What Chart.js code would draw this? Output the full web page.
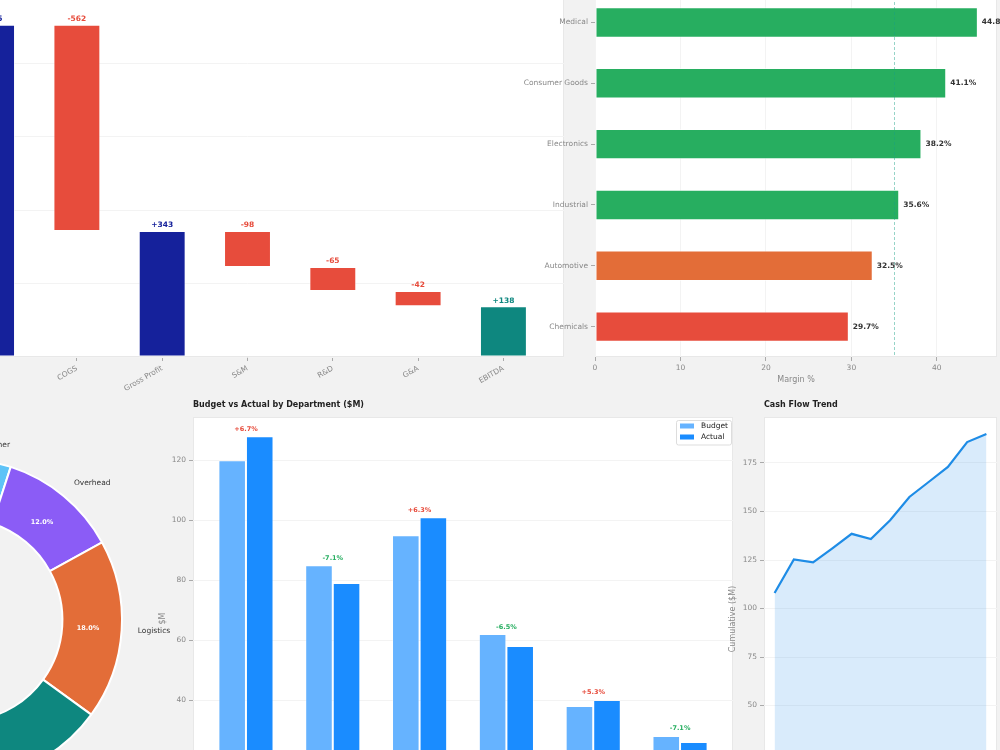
<!DOCTYPE html>
<html>
<head>
<meta charset="utf-8">
<script src="https://cdn.jsdelivr.net/npm/chart.js@4.4.1/dist/chart.umd.min.js"></script>
<style>
  html, body { margin: 0; padding: 0; width: 1000px; height: 750px; overflow: hidden; background: #f2f2f2; position: relative; }
  canvas { position: absolute; }
</style>
</head>
<body>
<canvas id="waterfall"></canvas>
<canvas id="margins"></canvas>
<canvas id="mix"></canvas>
<canvas id="budget"></canvas>
<canvas id="cashflow"></canvas>
<script>
// P&L bridge ($M)
const plSteps = ['Revenue', 'COGS', 'Gross Profit', 'S&M', 'R&D', 'G&A', 'EBITDA'];
const plValues = [905, -562, 343, -98, -65, -42, 138];
const plIsTotal = [true, false, true, false, false, false, true];

// margin by segment (%)
const segments = ['Medical', 'Consumer Goods', 'Electronics', 'Industrial', 'Automotive', 'Chemicals'];
const segMargin = [44.8, 41.1, 38.2, 35.6, 32.5, 29.7];
const marginTarget = 35;

// cost mix (%), clockwise from 12 o'clock
const costNames = ['Other', 'Overhead', 'Logistics', 'Manufacturing', 'Personnel', 'Technology'];
const costShare = [5, 12, 18, 25, 28, 12];

// budget vs actual ($M)
const depts = ['Engineering', 'Sales', 'Operations', 'Marketing', 'HR', 'Finance'];
const budget = [120, 85, 95, 62, 38, 28];
const actual = [128, 79, 101, 58, 40, 26];

// cumulative cash ($M)
const months = ['Jan', 'Feb', 'Mar', 'Apr', 'May', 'Jun', 'Jul', 'Aug', 'Sep', 'Oct', 'Nov', 'Dec'];
const cashCum = [108, 125.3, 123.8, 131, 138.5, 135.8, 145.5, 157.5, 165.2, 173, 185.8, 189.9];

const NAVY = '#15219b', RED = '#e74c3c', TEAL = '#0e877f', GREEN = '#27ae60', ORANGE = '#e36d38';
const PURPLE = '#8b5cf6', SKY = '#5ec3f7', LIGHTBLUE = '#66b3ff', BLUE = '#1a8cff', LINE = '#1e8ce6';
const FONT = "'DejaVu Sans', sans-serif";

Chart.defaults.font.family = FONT;
Chart.defaults.animation = false;
Chart.defaults.responsive = false;
Chart.defaults.plugins.legend.display = false;
Chart.defaults.plugins.tooltip.enabled = false;
Chart.defaults.color = '#888';

// size the canvas so the plot area lands where it should on the page
function placeCanvas(id, plot, m) {
  const c = document.getElementById(id);
  c.width = Math.round(plot.r - plot.l + m.l + m.r);
  c.height = Math.round(plot.b - plot.t + m.t + m.b);
  c.style.left = Math.round(plot.l - m.l) + 'px';
  c.style.top = Math.round(plot.t - m.t) + 'px';
  return c;
}
function fixAxis(size) {
  return function (axis) {
    if (axis.isHorizontal()) axis.height = size; else axis.width = size;
    axis.paddingLeft = axis.paddingRight = axis.paddingTop = axis.paddingBottom = 0;
  };
}
function indexTicks(n) {
  return function (axis) { axis.ticks = Array.from({length: n}, (_, i) => ({value: i})); };
}
function stepTicks(step) {
  return function (axis) { axis.ticks = axis.ticks.filter(t => t.value >= 0 && Math.abs(t.value % step) < 1e-9); };
}

const tickStyle = {color: '#888', font: {size: 7.5}, padding: 3};
const noGrid = {drawOnChartArea: false, offset: false, tickLength: 4, tickColor: '#aaa'};
const faintGrid = {color: '#f3f3f3', offset: false, tickLength: 4, tickColor: '#aaa'};

const panelBg = {
  id: 'panelBg',
  beforeDraw(chart) {
    const {ctx, chartArea: a} = chart;
    ctx.save();
    ctx.fillStyle = '#ffffff';
    ctx.fillRect(a.left, a.top, a.right - a.left, a.bottom - a.top);
    ctx.strokeStyle = '#e8e8e8';
    ctx.lineWidth = 1;
    ctx.strokeRect(a.left + 0.5, a.top + 0.5, a.right - a.left - 1, a.bottom - a.top - 1);
    ctx.restore();
  }
};

const panelTitle = {
  id: 'panelTitle',
  afterDraw(chart, args, opts) {
    if (!opts.text) return;
    const {ctx, chartArea: a} = chart;
    ctx.save();
    ctx.font = 'bold 8px ' + FONT;
    ctx.fillStyle = '#222';
    ctx.textAlign = 'left';
    ctx.textBaseline = 'middle';
    ctx.fillText(opts.text, a.left, a.top - 12.5);
    ctx.restore();
  }
};

// ---------- waterfall ----------
let running = 0;
const plBars = plValues.map((v, i) => {
  if (plIsTotal[i]) { running = v; return {x: i, y: [0, v]}; }
  const from = running;
  running += v;
  return {x: i, y: [running, from]};
});
const stepColor = i => i === plSteps.length - 1 ? TEAL : (plIsTotal[i] ? NAVY : RED);

const waterfallLabels = {
  id: 'waterfallLabels',
  afterDatasetsDraw(chart) {
    const {ctx} = chart;
    ctx.save();
    ctx.font = 'bold 7.5px ' + FONT;
    ctx.textAlign = 'center';
    ctx.textBaseline = 'bottom';
    chart.getDatasetMeta(0).data.forEach((bar, i) => {
      const v = plValues[i];
      ctx.fillStyle = stepColor(i);
      ctx.fillText((v > 0 ? '+' : '') + v, bar.x, Math.min(bar.y, bar.base) - 2);
    });
    ctx.restore();
  }
};

new Chart(placeCanvas('waterfall', {l: -69, t: -10, r: 564, b: 357}, {l: 50, t: 10, r: 10, b: 50}), {
  type: 'bar',
  data: {
    datasets: [{
      data: plBars,
      backgroundColor: plSteps.map((_, i) => stepColor(i)),
      borderColor: 'rgba(255,255,255,0.6)',
      borderWidth: 1,
      borderSkipped: false,
      categoryPercentage: 0.55,
      barPercentage: 1
    }]
  },
  options: {
    layout: {padding: {top: 10, right: 10, left: 0, bottom: 0}},
    scales: {
      x: {
        type: 'linear', min: -0.71, max: 6.71, offset: false,
        afterBuildTicks: indexTicks(plSteps.length),
        afterFit: fixAxis(50),
        ticks: {...tickStyle, minRotation: 30, maxRotation: 30, autoSkip: false, callback: v => plSteps[v]},
        grid: noGrid, border: {display: false}
      },
      y: {
        min: 0, max: 1000,
        afterFit: fixAxis(50),
        ticks: {...tickStyle, stepSize: 200},
        grid: faintGrid, border: {display: false}
      }
    }
  },
  plugins: [panelBg, waterfallLabels]
});

// ---------- margin by segment ----------
const marginColor = v => v >= marginTarget ? GREEN : (v >= 30 ? ORANGE : RED);

const marginExtras = {
  id: 'marginExtras',
  afterDatasetsDraw(chart) {
    const {ctx, chartArea: a} = chart;
    const x = chart.scales.x.getPixelForValue(marginTarget);
    ctx.save();
    ctx.strokeStyle = 'rgba(22,160,133,0.45)';
    ctx.setLineDash([3, 2]);
    ctx.lineWidth = 1;
    ctx.beginPath();
    ctx.moveTo(Math.round(x) + 0.5, a.top);
    ctx.lineTo(Math.round(x) + 0.5, a.bottom);
    ctx.stroke();
    ctx.setLineDash([]);
    ctx.font = 'bold 7.5px ' + FONT;
    ctx.fillStyle = '#333';
    ctx.textAlign = 'left';
    ctx.textBaseline = 'middle';
    chart.getDatasetMeta(0).data.forEach((bar, i) => {
      ctx.fillText(segMargin[i].toFixed(1) + '%', bar.x + 4, bar.y);
    });
    ctx.restore();
  }
};

new Chart(placeCanvas('margins', {l: 594.5, t: -8.4, r: 996, b: 357}, {l: 100, t: 10, r: 10, b: 28}), {
  type: 'bar',
  data: {
    labels: segments,
    datasets: [{
      data: segMargin,
      backgroundColor: segMargin.map(marginColor),
      borderColor: 'rgba(255,255,255,0.6)',
      borderWidth: 1,
      borderSkipped: false,
      categoryPercentage: 1,
      barPercentage: 0.5
    }]
  },
  options: {
    indexAxis: 'y',
    layout: {padding: {top: 10, right: 10, left: 0, bottom: 0}},
    scales: {
      x: {
        min: 0, max: 47.04,
        afterFit: fixAxis(28),
        ticks: {...tickStyle, stepSize: 10},
        afterBuildTicks: stepTicks(10),
        grid: faintGrid, border: {display: false},
        title: {display: true, text: 'Margin %', color: '#888', font: {size: 8}, padding: 0}
      },
      y: {
        afterFit: fixAxis(100),
        ticks: tickStyle,
        grid: noGrid, border: {display: false}
      }
    }
  },
  plugins: [panelBg, marginExtras]
});

// ---------- cost mix donut ----------
const mixColors = [SKY, PURPLE, ORANGE, TEAL, NAVY, GREEN];

const mixLabels = {
  id: 'mixLabels',
  afterDatasetsDraw(chart) {
    const {ctx} = chart;
    const total = costShare.reduce((s, v) => s + v, 0);
    ctx.save();
    ctx.textBaseline = 'middle';
    chart.getDatasetMeta(0).data.forEach((arc, i) => {
      const mid = (arc.startAngle + arc.endAngle) / 2;
      const c = Math.cos(mid), s = Math.sin(mid);
      const ro = arc.outerRadius * 1.1;
      ctx.font = '7.5px ' + FONT;
      ctx.fillStyle = '#333';
      ctx.textAlign = c >= 0 ? 'left' : 'right';
      ctx.fillText(costNames[i], arc.x + ro * c, arc.y + ro * s);
      const rp = arc.outerRadius * 0.79;
      ctx.font = 'bold 6.5px ' + FONT;
      ctx.fillStyle = '#ffffff';
      ctx.textAlign = 'center';
      ctx.fillText((costShare[i] / total * 100).toFixed(1) + '%', arc.x + rp * c, arc.y + rp * s);
    });
    ctx.restore();
  }
};

const mixCanvas = document.getElementById('mix');
mixCanvas.width = 600;
mixCanvas.height = 600;
mixCanvas.style.left = '-339px';
mixCanvas.style.top = '320px';
new Chart(mixCanvas, {
  type: 'doughnut',
  data: {
    labels: costNames,
    datasets: [{
      data: costShare,
      backgroundColor: mixColors,
      borderColor: '#ffffff',
      borderWidth: 2
    }]
  },
  options: {
    radius: 161,
    cutout: '63%',
    layout: {padding: 0}
  },
  plugins: [mixLabels]
});

// ---------- budget vs actual ----------
const budgetExtras = {
  id: 'budgetExtras',
  afterDatasetsDraw(chart) {
    const {ctx, chartArea: a} = chart;
    const ys = chart.scales.y, xs = chart.scales.x;
    ctx.save();
    ctx.font = 'bold 6.5px ' + FONT;
    ctx.textAlign = 'center';
    ctx.textBaseline = 'bottom';
    depts.forEach((d, i) => {
      const pct = (actual[i] - budget[i]) / budget[i] * 100;
      ctx.fillStyle = pct >= 0 ? RED : GREEN;
      const top = ys.getPixelForValue(Math.max(actual[i], budget[i]));
      ctx.fillText((pct >= 0 ? '+' : '') + pct.toFixed(1) + '%', xs.getPixelForValue(i), top - 4);
    });
    // legend box in the upper right corner
    const bx = a.right - 57, by = a.top + 3, bw = 55, bh = 24.5;
    ctx.fillStyle = 'rgba(255,255,255,0.85)';
    ctx.strokeStyle = '#dddddd';
    ctx.lineWidth = 1;
    ctx.beginPath();
    ctx.roundRect(bx + 0.5, by + 0.5, bw, bh, 2);
    ctx.fill();
    ctx.stroke();
    ctx.font = '7.5px ' + FONT;
    ctx.textAlign = 'left';
    ctx.textBaseline = 'middle';
    chart.data.datasets.forEach((ds, k) => {
      const cy = by + 6 + k * 11;
      ctx.fillStyle = ds.backgroundColor;
      ctx.fillRect(bx + 4, cy - 2.5, 14, 5);
      ctx.fillStyle = '#222';
      ctx.fillText(ds.label, bx + 25, cy);
    });
    ctx.restore();
  }
};

new Chart(placeCanvas('budget', {l: 193, t: 417, r: 732.5, b: 820}, {l: 35, t: 25, r: 8, b: 30}), {
  type: 'bar',
  data: {
    datasets: [
      {label: 'Budget', data: budget.map((v, i) => ({x: i, y: v})), backgroundColor: LIGHTBLUE,
       borderColor: 'rgba(255,255,255,0.35)', borderWidth: 1, borderSkipped: false,
       categoryPercentage: 0.635, barPercentage: 1},
      {label: 'Actual', data: actual.map((v, i) => ({x: i, y: v})), backgroundColor: BLUE,
       borderColor: 'rgba(255,255,255,0.35)', borderWidth: 1, borderSkipped: false,
       categoryPercentage: 0.635, barPercentage: 1}
    ]
  },
  options: {
    layout: {padding: {top: 25, right: 8, left: 0, bottom: 0}},
    scales: {
      x: {
        type: 'linear', min: -0.61, max: 5.61, offset: false,
        afterBuildTicks: indexTicks(depts.length),
        afterFit: fixAxis(30),
        ticks: {...tickStyle, autoSkip: false, callback: v => depts[v]},
        grid: noGrid, border: {display: false}
      },
      y: {
        min: 0, max: 134.4,
        afterFit: fixAxis(35),
        ticks: {...tickStyle, stepSize: 20},
        afterBuildTicks: stepTicks(20),
        grid: faintGrid, border: {display: false},
        title: {display: true, text: '$M', color: '#888', font: {size: 8}, padding: 0}
      }
    },
    plugins: {panelTitle: {text: 'Budget vs Actual by Department ($M)'}}
  },
  plugins: [panelBg, panelTitle, budgetExtras]
});

// ---------- cash flow ----------
new Chart(placeCanvas('cashflow', {l: 764, t: 417, r: 996.5, b: 821}, {l: 36, t: 25, r: 4, b: 20}), {
  type: 'line',
  data: {
    datasets: [{
      data: cashCum.map((v, i) => ({x: i, y: v})),
      borderColor: LINE,
      borderWidth: 2.2,
      pointRadius: 0,
      tension: 0,
      fill: 'origin',
      backgroundColor: 'rgba(30,136,229,0.17)'
    }]
  },
  options: {
    layout: {padding: {top: 25, right: 4, left: 0, bottom: 0}},
    scales: {
      x: {
        type: 'linear', min: -0.55, max: 11.55,
        afterBuildTicks: indexTicks(months.length),
        afterFit: fixAxis(20),
        ticks: {...tickStyle, autoSkip: false, callback: v => months[v]},
        grid: noGrid, border: {display: false}
      },
      y: {
        min: -9.5, max: 198.7,
        afterFit: fixAxis(36),
        ticks: {...tickStyle, stepSize: 25},
        afterBuildTicks: stepTicks(25),
        grid: faintGrid, border: {display: false},
        title: {display: true, text: 'Cumulative ($M)', color: '#888', font: {size: 8}, padding: 0}
      }
    },
    plugins: {panelTitle: {text: 'Cash Flow Trend'}}
  },
  plugins: [panelBg, panelTitle]
});
</script>
</body>
</html>
